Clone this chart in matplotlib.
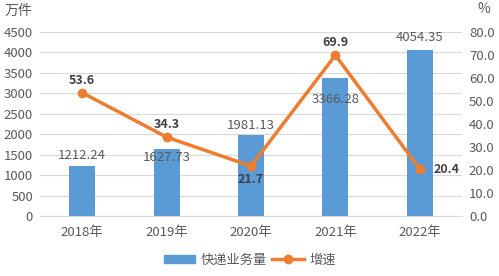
import matplotlib
matplotlib.use('Agg')
import matplotlib.pyplot as plt
from matplotlib.lines import Line2D
from matplotlib.patches import Patch

plt.rcParams['font.family'] = ['Noto Sans CJK SC', 'DejaVu Sans']

# data
years = ['2018年', '2019年', '2020年', '2021年', '2022年']
volume = [1212.24, 1627.73, 1981.13, 3366.28, 4054.35]
growth = [53.6, 34.3, 21.7, 69.9, 20.4]

bar_color = '#5B9BD5'
line_color = '#ED7D31'
text_gray = '#595959'

fig = plt.figure(figsize=(4.99, 2.76), dpi=100)
ax = fig.add_axes([40 / 499, 60 / 276, 422 / 499, 184 / 276])
ax2 = ax.twinx()

x = list(range(len(years)))
ax.bar(x, volume, width=0.31, color=bar_color, zorder=2)
ax.set_xlim(-0.5, len(years) - 0.5)
ax.set_ylim(0, 4500)
ax.set_yticks(range(0, 4501, 500))
ax.grid(axis='y', color='#D9D9D9', linewidth=0.8, zorder=0)
ax.set_axisbelow(True)
ax.set_xticks(x)
ax.set_xticklabels(years)

ax2.plot(x, growth, color=line_color, linewidth=2.5, marker='o', markersize=6, zorder=3)
ax2.set_ylim(0, 80)
ax2.set_yticks(range(0, 81, 10))
ax2.set_yticklabels([f'{v:.1f}' for v in range(0, 81, 10)])

for a in (ax, ax2):
    for s in a.spines.values():
        s.set_visible(False)
    a.tick_params(length=0, labelsize=9.5, colors=text_gray)
ax.spines['bottom'].set_visible(True)
ax.spines['bottom'].set_color('#D9D9D9')
ax.tick_params(axis='x', pad=7)
ax.tick_params(axis='y', pad=5)
ax2.tick_params(axis='y', pad=5)

# bar value labels (offsets in points, like the excel layout)
bar_offsets = [8, -6, 7, -15, 9]
for i, v in enumerate(volume):
    ax.annotate(f'{v:.2f}', (i, v), xytext=(0, bar_offsets[i]), textcoords='offset points',
                ha='center', va='center', fontsize=9.5, color=text_gray, zorder=4)

# growth labels
line_offsets = [(0, 9), (0, 9), (0, -10), (0, 9), (19, 0)]
for i, v in enumerate(growth):
    ax2.annotate(f'{v:.1f}', (i, v), xytext=line_offsets[i], textcoords='offset points',
                 ha='center', va='center', fontsize=9, fontweight='bold', color='#404040', zorder=5)

fig.text(5 / 499, 1 - 11 / 276, '万件', fontsize=10, color=text_gray, va='center', ha='left')
fig.text(484 / 499, 1 - 9 / 276, '%', fontsize=10, color=text_gray, va='center', ha='center')

handles = [Patch(color=bar_color),
           Line2D([0], [0], color=line_color, linewidth=2.5, marker='o', markersize=6)]
fig.legend(handles, ['快递业务量', '增速'], loc='center', bbox_to_anchor=(0.5, 1 - 260 / 276),
           ncol=2, frameon=False, fontsize=9.5, labelcolor=text_gray, handlelength=2.4,
           handleheight=0.55, columnspacing=0.4, handletextpad=0.4)

fig.savefig('out.png', dpi=100)
